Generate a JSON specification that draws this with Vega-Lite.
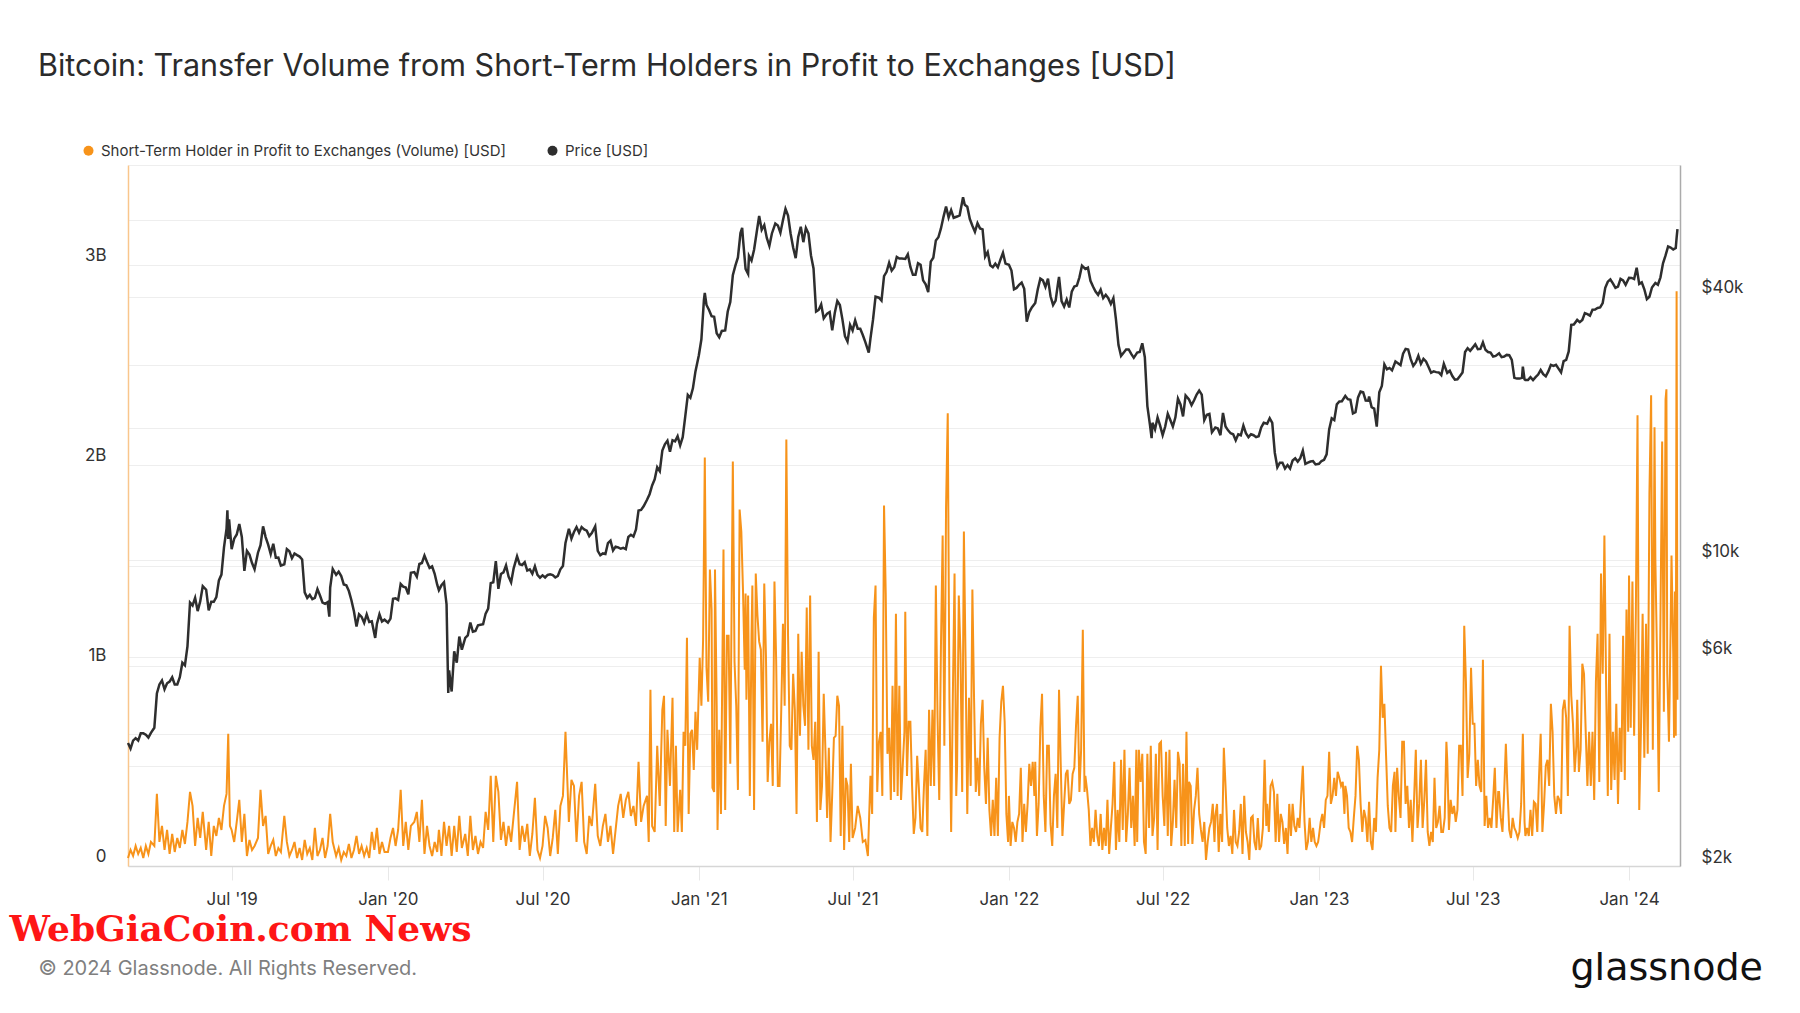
{
"$schema": "https://vega.github.io/schema/vega-lite/v6.json",
"width": 1552, "height": 701,
"autosize": {"type": "none"},
"padding": {"left": 128, "top": 165, "right": 120, "bottom": 147},
"background": "white",
"config": {"view": {"stroke": null}, "font": "Inter"},
"title": {"text": "Bitcoin: Transfer Volume from Short-Term Holders in Profit to Exchanges [USD]", "anchor": "start", "frame": "group", "dx": -90, "dy": 1, "offset": 62, "fontSize": 30.5, "fontWeight": 400, "color": "#2b2b2b", "font": "Inter"},
"datasets": {
"vol": [
{"t":"2019-03-01","v":0.04},{"t":"2019-03-04","v":0.08},{"t":"2019-03-07","v":0.05},{"t":"2019-03-10","v":0.10},{"t":"2019-03-13","v":0.06},{"t":"2019-03-16","v":0.09},{"t":"2019-03-19","v":0.04},{"t":"2019-03-22","v":0.10},{"t":"2019-03-25","v":0.06},{"t":"2019-03-28","v":0.12},
{"t":"2019-04-01","v":0.10},{"t":"2019-04-04","v":0.36},{"t":"2019-04-07","v":0.12},{"t":"2019-04-10","v":0.20},{"t":"2019-04-13","v":0.08},{"t":"2019-04-16","v":0.18},{"t":"2019-04-19","v":0.06},{"t":"2019-04-22","v":0.16},{"t":"2019-04-25","v":0.07},{"t":"2019-04-28","v":0.14},
{"t":"2019-05-01","v":0.09},{"t":"2019-05-04","v":0.18},{"t":"2019-05-07","v":0.11},{"t":"2019-05-10","v":0.22},{"t":"2019-05-13","v":0.37},{"t":"2019-05-16","v":0.30},{"t":"2019-05-19","v":0.10},{"t":"2019-05-22","v":0.24},{"t":"2019-05-25","v":0.14},{"t":"2019-05-28","v":0.27},
{"t":"2019-06-01","v":0.08},{"t":"2019-06-04","v":0.22},{"t":"2019-06-07","v":0.05},{"t":"2019-06-10","v":0.20},{"t":"2019-06-13","v":0.15},{"t":"2019-06-16","v":0.24},{"t":"2019-06-19","v":0.18},{"t":"2019-06-22","v":0.30},{"t":"2019-06-25","v":0.36},{"t":"2019-06-27","v":0.66},{"t":"2019-06-29","v":0.20},
{"t":"2019-07-01","v":0.18},{"t":"2019-07-04","v":0.12},{"t":"2019-07-07","v":0.22},{"t":"2019-07-10","v":0.33},{"t":"2019-07-13","v":0.12},{"t":"2019-07-16","v":0.26},{"t":"2019-07-19","v":0.05},{"t":"2019-07-22","v":0.13},{"t":"2019-07-25","v":0.08},{"t":"2019-07-28","v":0.10},
{"t":"2019-08-01","v":0.14},{"t":"2019-08-04","v":0.38},{"t":"2019-08-07","v":0.20},{"t":"2019-08-10","v":0.25},{"t":"2019-08-13","v":0.06},{"t":"2019-08-16","v":0.10},{"t":"2019-08-19","v":0.13},{"t":"2019-08-22","v":0.05},{"t":"2019-08-25","v":0.09},{"t":"2019-08-28","v":0.07},
{"t":"2019-09-01","v":0.25},{"t":"2019-09-04","v":0.12},{"t":"2019-09-07","v":0.05},{"t":"2019-09-10","v":0.08},{"t":"2019-09-13","v":0.12},{"t":"2019-09-16","v":0.04},{"t":"2019-09-19","v":0.09},{"t":"2019-09-22","v":0.03},{"t":"2019-09-25","v":0.13},{"t":"2019-09-28","v":0.06},
{"t":"2019-10-01","v":0.09},{"t":"2019-10-04","v":0.03},{"t":"2019-10-07","v":0.19},{"t":"2019-10-10","v":0.05},{"t":"2019-10-13","v":0.08},{"t":"2019-10-16","v":0.14},{"t":"2019-10-19","v":0.04},{"t":"2019-10-22","v":0.10},{"t":"2019-10-25","v":0.26},{"t":"2019-10-28","v":0.12},
{"t":"2019-11-01","v":0.05},{"t":"2019-11-04","v":0.09},{"t":"2019-11-07","v":0.03},{"t":"2019-11-10","v":0.07},{"t":"2019-11-13","v":0.05},{"t":"2019-11-16","v":0.11},{"t":"2019-11-19","v":0.04},{"t":"2019-11-22","v":0.08},{"t":"2019-11-25","v":0.15},{"t":"2019-11-28","v":0.06},
{"t":"2019-12-01","v":0.10},{"t":"2019-12-04","v":0.05},{"t":"2019-12-07","v":0.09},{"t":"2019-12-10","v":0.04},{"t":"2019-12-13","v":0.17},{"t":"2019-12-16","v":0.08},{"t":"2019-12-19","v":0.19},{"t":"2019-12-22","v":0.06},{"t":"2019-12-25","v":0.12},{"t":"2019-12-28","v":0.07},
{"t":"2020-01-01","v":0.07},{"t":"2020-01-04","v":0.14},{"t":"2020-01-07","v":0.19},{"t":"2020-01-10","v":0.10},{"t":"2020-01-13","v":0.18},{"t":"2020-01-16","v":0.38},{"t":"2020-01-19","v":0.10},{"t":"2020-01-22","v":0.22},{"t":"2020-01-25","v":0.08},{"t":"2020-01-28","v":0.20},
{"t":"2020-02-01","v":0.22},{"t":"2020-02-04","v":0.27},{"t":"2020-02-07","v":0.12},{"t":"2020-02-10","v":0.33},{"t":"2020-02-13","v":0.06},{"t":"2020-02-16","v":0.20},{"t":"2020-02-19","v":0.10},{"t":"2020-02-22","v":0.05},{"t":"2020-02-25","v":0.12},{"t":"2020-02-28","v":0.07},
{"t":"2020-03-01","v":0.18},{"t":"2020-03-04","v":0.05},{"t":"2020-03-07","v":0.22},{"t":"2020-03-10","v":0.10},{"t":"2020-03-13","v":0.20},{"t":"2020-03-16","v":0.05},{"t":"2020-03-19","v":0.20},{"t":"2020-03-22","v":0.07},{"t":"2020-03-25","v":0.25},{"t":"2020-03-28","v":0.09},
{"t":"2020-04-01","v":0.16},{"t":"2020-04-04","v":0.05},{"t":"2020-04-07","v":0.25},{"t":"2020-04-10","v":0.08},{"t":"2020-04-13","v":0.15},{"t":"2020-04-16","v":0.06},{"t":"2020-04-19","v":0.12},{"t":"2020-04-22","v":0.09},{"t":"2020-04-25","v":0.27},{"t":"2020-04-28","v":0.18},
{"t":"2020-05-01","v":0.45},{"t":"2020-05-04","v":0.12},{"t":"2020-05-07","v":0.45},{"t":"2020-05-10","v":0.37},{"t":"2020-05-13","v":0.13},{"t":"2020-05-16","v":0.22},{"t":"2020-05-19","v":0.10},{"t":"2020-05-22","v":0.20},{"t":"2020-05-25","v":0.12},{"t":"2020-05-28","v":0.25},
{"t":"2020-06-01","v":0.42},{"t":"2020-06-04","v":0.08},{"t":"2020-06-07","v":0.20},{"t":"2020-06-10","v":0.12},{"t":"2020-06-13","v":0.21},{"t":"2020-06-16","v":0.05},{"t":"2020-06-19","v":0.16},{"t":"2020-06-22","v":0.34},{"t":"2020-06-25","v":0.08},{"t":"2020-06-28","v":0.04},
{"t":"2020-07-01","v":0.10},{"t":"2020-07-04","v":0.25},{"t":"2020-07-07","v":0.19},{"t":"2020-07-10","v":0.05},{"t":"2020-07-13","v":0.14},{"t":"2020-07-16","v":0.28},{"t":"2020-07-19","v":0.06},{"t":"2020-07-22","v":0.30},{"t":"2020-07-25","v":0.35},{"t":"2020-07-28","v":0.67},
{"t":"2020-08-01","v":0.22},{"t":"2020-08-04","v":0.43},{"t":"2020-08-07","v":0.40},{"t":"2020-08-10","v":0.12},{"t":"2020-08-13","v":0.35},{"t":"2020-08-16","v":0.42},{"t":"2020-08-19","v":0.12},{"t":"2020-08-22","v":0.06},{"t":"2020-08-25","v":0.25},{"t":"2020-08-28","v":0.20},
{"t":"2020-09-01","v":0.41},{"t":"2020-09-04","v":0.15},{"t":"2020-09-07","v":0.10},{"t":"2020-09-10","v":0.20},{"t":"2020-09-13","v":0.26},{"t":"2020-09-16","v":0.12},{"t":"2020-09-19","v":0.20},{"t":"2020-09-22","v":0.06},{"t":"2020-09-25","v":0.18},{"t":"2020-09-28","v":0.30},
{"t":"2020-10-01","v":0.36},{"t":"2020-10-04","v":0.24},{"t":"2020-10-07","v":0.33},{"t":"2020-10-10","v":0.37},{"t":"2020-10-13","v":0.25},{"t":"2020-10-16","v":0.30},{"t":"2020-10-19","v":0.20},{"t":"2020-10-22","v":0.52},{"t":"2020-10-25","v":0.22},{"t":"2020-10-28","v":0.30},
{"t":"2020-11-01","v":0.35},{"t":"2020-11-03","v":0.12},{"t":"2020-11-05","v":0.88},{"t":"2020-11-07","v":0.20},{"t":"2020-11-10","v":0.17},{"t":"2020-11-13","v":0.60},{"t":"2020-11-16","v":0.30},{"t":"2020-11-19","v":0.78},{"t":"2020-11-21","v":0.85},{"t":"2020-11-23","v":0.20},{"t":"2020-11-25","v":0.68},{"t":"2020-11-28","v":0.40},
{"t":"2020-12-01","v":0.84},{"t":"2020-12-03","v":0.17},{"t":"2020-12-05","v":0.60},{"t":"2020-12-07","v":0.17},{"t":"2020-12-10","v":0.38},{"t":"2020-12-12","v":0.17},{"t":"2020-12-14","v":0.67},{"t":"2020-12-16","v":0.60},{"t":"2020-12-18","v":1.14},{"t":"2020-12-20","v":0.26},{"t":"2020-12-22","v":0.66},{"t":"2020-12-24","v":0.68},{"t":"2020-12-26","v":0.48},{"t":"2020-12-28","v":0.77},{"t":"2020-12-30","v":0.58},
{"t":"2021-01-01","v":0.89},{"t":"2021-01-02","v":1.04},{"t":"2021-01-04","v":0.80},{"t":"2021-01-06","v":1.13},{"t":"2021-01-08","v":2.04},{"t":"2021-01-10","v":0.99},{"t":"2021-01-12","v":0.82},{"t":"2021-01-14","v":1.48},{"t":"2021-01-16","v":1.28},{"t":"2021-01-17","v":0.39},{"t":"2021-01-19","v":0.37},{"t":"2021-01-20","v":1.48},{"t":"2021-01-22","v":0.80},{"t":"2021-01-23","v":0.18},{"t":"2021-01-25","v":0.68},{"t":"2021-01-27","v":0.26},{"t":"2021-01-30","v":1.58},
{"t":"2021-02-01","v":0.28},{"t":"2021-02-03","v":1.15},{"t":"2021-02-05","v":1.15},{"t":"2021-02-07","v":0.51},{"t":"2021-02-10","v":2.02},{"t":"2021-02-12","v":1.02},{"t":"2021-02-14","v":0.80},{"t":"2021-02-16","v":0.38},{"t":"2021-02-18","v":1.78},{"t":"2021-02-20","v":1.67},{"t":"2021-02-22","v":1.37},{"t":"2021-02-24","v":0.98},{"t":"2021-02-25","v":1.36},{"t":"2021-02-26","v":0.83},{"t":"2021-02-28","v":1.35},
{"t":"2021-03-02","v":0.35},{"t":"2021-03-04","v":1.15},{"t":"2021-03-05","v":1.40},{"t":"2021-03-07","v":0.28},{"t":"2021-03-09","v":1.46},{"t":"2021-03-11","v":1.25},{"t":"2021-03-13","v":1.12},{"t":"2021-03-15","v":1.08},{"t":"2021-03-17","v":0.62},{"t":"2021-03-19","v":1.41},{"t":"2021-03-21","v":1.05},{"t":"2021-03-23","v":0.42},{"t":"2021-03-25","v":0.62},{"t":"2021-03-27","v":0.71},{"t":"2021-03-29","v":0.40},{"t":"2021-03-31","v":1.42},
{"t":"2021-04-02","v":1.03},{"t":"2021-04-04","v":0.40},{"t":"2021-04-06","v":0.40},{"t":"2021-04-08","v":0.78},{"t":"2021-04-10","v":1.21},{"t":"2021-04-12","v":0.80},{"t":"2021-04-14","v":2.13},{"t":"2021-04-16","v":1.15},{"t":"2021-04-18","v":0.60},{"t":"2021-04-20","v":0.58},{"t":"2021-04-22","v":0.96},{"t":"2021-04-24","v":0.78},{"t":"2021-04-26","v":0.26},{"t":"2021-04-28","v":1.16},{"t":"2021-04-30","v":0.65},
{"t":"2021-05-02","v":1.07},{"t":"2021-05-04","v":0.80},{"t":"2021-05-06","v":0.70},{"t":"2021-05-08","v":1.29},{"t":"2021-05-10","v":0.58},{"t":"2021-05-12","v":1.35},{"t":"2021-05-14","v":0.60},{"t":"2021-05-16","v":0.53},{"t":"2021-05-18","v":0.72},{"t":"2021-05-20","v":0.22},{"t":"2021-05-22","v":1.07},{"t":"2021-05-24","v":0.28},{"t":"2021-05-26","v":0.40},{"t":"2021-05-28","v":0.86},{"t":"2021-05-30","v":0.58},
{"t":"2021-06-01","v":0.24},{"t":"2021-06-03","v":0.59},{"t":"2021-06-05","v":0.12},{"t":"2021-06-07","v":0.36},{"t":"2021-06-09","v":0.64},{"t":"2021-06-11","v":0.65},{"t":"2021-06-13","v":0.85},{"t":"2021-06-15","v":0.80},{"t":"2021-06-17","v":0.15},{"t":"2021-06-19","v":0.70},{"t":"2021-06-21","v":0.08},{"t":"2021-06-23","v":0.44},{"t":"2021-06-25","v":0.40},{"t":"2021-06-27","v":0.12},{"t":"2021-06-29","v":0.51},
{"t":"2021-07-01","v":0.14},{"t":"2021-07-04","v":0.19},{"t":"2021-07-07","v":0.30},{"t":"2021-07-10","v":0.24},{"t":"2021-07-13","v":0.12},{"t":"2021-07-16","v":0.13},{"t":"2021-07-19","v":0.05},{"t":"2021-07-22","v":0.45},{"t":"2021-07-24","v":0.26},{"t":"2021-07-26","v":1.24},{"t":"2021-07-28","v":1.40},{"t":"2021-07-30","v":0.37},
{"t":"2021-08-01","v":0.62},{"t":"2021-08-03","v":0.67},{"t":"2021-08-05","v":0.35},{"t":"2021-08-07","v":1.80},{"t":"2021-08-09","v":1.36},{"t":"2021-08-11","v":0.56},{"t":"2021-08-13","v":0.69},{"t":"2021-08-15","v":0.33},{"t":"2021-08-17","v":0.90},{"t":"2021-08-19","v":0.37},{"t":"2021-08-21","v":1.26},{"t":"2021-08-23","v":0.35},{"t":"2021-08-25","v":0.90},{"t":"2021-08-27","v":0.33},{"t":"2021-08-29","v":0.50},{"t":"2021-08-31","v":0.67},
{"t":"2021-09-01","v":1.27},{"t":"2021-09-03","v":0.45},{"t":"2021-09-05","v":0.72},{"t":"2021-09-07","v":0.72},{"t":"2021-09-09","v":0.40},{"t":"2021-09-11","v":0.16},{"t":"2021-09-13","v":0.24},{"t":"2021-09-15","v":0.55},{"t":"2021-09-17","v":0.39},{"t":"2021-09-19","v":0.19},{"t":"2021-09-21","v":0.17},{"t":"2021-09-23","v":0.40},{"t":"2021-09-25","v":0.58},{"t":"2021-09-27","v":0.15},{"t":"2021-09-29","v":0.78},
{"t":"2021-10-01","v":0.40},{"t":"2021-10-03","v":0.78},{"t":"2021-10-05","v":0.40},{"t":"2021-10-07","v":1.40},{"t":"2021-10-09","v":0.74},{"t":"2021-10-11","v":0.33},{"t":"2021-10-13","v":1.10},{"t":"2021-10-15","v":1.65},{"t":"2021-10-17","v":0.60},{"t":"2021-10-19","v":1.79},{"t":"2021-10-21","v":2.26},{"t":"2021-10-23","v":0.83},{"t":"2021-10-25","v":0.17},{"t":"2021-10-27","v":0.85},{"t":"2021-10-29","v":1.46},{"t":"2021-10-31","v":0.35},
{"t":"2021-11-01","v":0.50},{"t":"2021-11-03","v":1.35},{"t":"2021-11-05","v":1.06},{"t":"2021-11-07","v":0.37},{"t":"2021-11-09","v":1.67},{"t":"2021-11-11","v":1.02},{"t":"2021-11-13","v":0.26},{"t":"2021-11-15","v":0.84},{"t":"2021-11-17","v":0.40},{"t":"2021-11-19","v":1.38},{"t":"2021-11-21","v":0.83},{"t":"2021-11-23","v":0.37},{"t":"2021-11-25","v":0.54},{"t":"2021-11-27","v":0.35},{"t":"2021-11-29","v":0.71},
{"t":"2021-12-01","v":0.83},{"t":"2021-12-03","v":0.49},{"t":"2021-12-05","v":0.31},{"t":"2021-12-07","v":0.64},{"t":"2021-12-09","v":0.28},{"t":"2021-12-11","v":0.15},{"t":"2021-12-13","v":0.33},{"t":"2021-12-15","v":0.15},{"t":"2021-12-17","v":0.44},{"t":"2021-12-19","v":0.15},{"t":"2021-12-21","v":0.64},{"t":"2021-12-23","v":0.82},{"t":"2021-12-25","v":0.90},{"t":"2021-12-27","v":0.72},{"t":"2021-12-29","v":0.26},{"t":"2021-12-31","v":0.12},
{"t":"2022-01-01","v":0.35},{"t":"2022-01-03","v":0.10},{"t":"2022-01-05","v":0.22},{"t":"2022-01-07","v":0.19},{"t":"2022-01-09","v":0.12},{"t":"2022-01-11","v":0.22},{"t":"2022-01-13","v":0.26},{"t":"2022-01-15","v":0.49},{"t":"2022-01-17","v":0.12},{"t":"2022-01-19","v":0.31},{"t":"2022-01-21","v":0.17},{"t":"2022-01-23","v":0.31},{"t":"2022-01-25","v":0.51},{"t":"2022-01-27","v":0.40},{"t":"2022-01-29","v":0.52},{"t":"2022-01-31","v":0.35},
{"t":"2022-02-01","v":0.52},{"t":"2022-02-03","v":0.15},{"t":"2022-02-05","v":0.31},{"t":"2022-02-07","v":0.69},{"t":"2022-02-09","v":0.86},{"t":"2022-02-11","v":0.35},{"t":"2022-02-13","v":0.17},{"t":"2022-02-15","v":0.60},{"t":"2022-02-17","v":0.60},{"t":"2022-02-19","v":0.21},{"t":"2022-02-21","v":0.10},{"t":"2022-02-23","v":0.35},{"t":"2022-02-25","v":0.46},{"t":"2022-02-27","v":0.19},
{"t":"2022-03-01","v":0.88},{"t":"2022-03-03","v":0.51},{"t":"2022-03-05","v":0.15},{"t":"2022-03-07","v":0.31},{"t":"2022-03-09","v":0.46},{"t":"2022-03-11","v":0.48},{"t":"2022-03-13","v":0.31},{"t":"2022-03-15","v":0.33},{"t":"2022-03-17","v":0.46},{"t":"2022-03-19","v":0.49},{"t":"2022-03-21","v":0.70},{"t":"2022-03-23","v":0.85},{"t":"2022-03-25","v":0.37},{"t":"2022-03-27","v":0.58},{"t":"2022-03-29","v":1.18},{"t":"2022-03-31","v":0.37},
{"t":"2022-04-01","v":0.45},{"t":"2022-04-03","v":0.38},{"t":"2022-04-05","v":0.28},{"t":"2022-04-07","v":0.10},{"t":"2022-04-09","v":0.19},{"t":"2022-04-11","v":0.12},{"t":"2022-04-13","v":0.28},{"t":"2022-04-15","v":0.15},{"t":"2022-04-17","v":0.10},{"t":"2022-04-19","v":0.26},{"t":"2022-04-21","v":0.08},{"t":"2022-04-23","v":0.19},{"t":"2022-04-25","v":0.10},{"t":"2022-04-27","v":0.33},{"t":"2022-04-29","v":0.06},
{"t":"2022-05-01","v":0.19},{"t":"2022-05-03","v":0.31},{"t":"2022-05-05","v":0.52},{"t":"2022-05-07","v":0.08},{"t":"2022-05-09","v":0.28},{"t":"2022-05-11","v":0.12},{"t":"2022-05-13","v":0.53},{"t":"2022-05-15","v":0.18},{"t":"2022-05-17","v":0.58},{"t":"2022-05-19","v":0.12},{"t":"2022-05-21","v":0.26},{"t":"2022-05-23","v":0.49},{"t":"2022-05-25","v":0.19},{"t":"2022-05-27","v":0.35},{"t":"2022-05-29","v":0.10},{"t":"2022-05-31","v":0.58},
{"t":"2022-06-01","v":0.12},{"t":"2022-06-03","v":0.58},{"t":"2022-06-05","v":0.42},{"t":"2022-06-07","v":0.56},{"t":"2022-06-09","v":0.12},{"t":"2022-06-11","v":0.06},{"t":"2022-06-13","v":0.56},{"t":"2022-06-15","v":0.19},{"t":"2022-06-17","v":0.60},{"t":"2022-06-19","v":0.15},{"t":"2022-06-21","v":0.24},{"t":"2022-06-23","v":0.56},{"t":"2022-06-25","v":0.08},{"t":"2022-06-27","v":0.61},{"t":"2022-06-29","v":0.62},
{"t":"2022-07-01","v":0.35},{"t":"2022-07-03","v":0.20},{"t":"2022-07-05","v":0.57},{"t":"2022-07-07","v":0.15},{"t":"2022-07-09","v":0.58},{"t":"2022-07-11","v":0.10},{"t":"2022-07-13","v":0.22},{"t":"2022-07-15","v":0.43},{"t":"2022-07-17","v":0.19},{"t":"2022-07-19","v":0.57},{"t":"2022-07-21","v":0.51},{"t":"2022-07-23","v":0.10},{"t":"2022-07-25","v":0.51},{"t":"2022-07-27","v":0.10},{"t":"2022-07-29","v":0.67},{"t":"2022-07-31","v":0.11},
{"t":"2022-08-01","v":0.42},{"t":"2022-08-03","v":0.40},{"t":"2022-08-05","v":0.11},{"t":"2022-08-07","v":0.28},{"t":"2022-08-09","v":0.35},{"t":"2022-08-11","v":0.49},{"t":"2022-08-13","v":0.26},{"t":"2022-08-15","v":0.18},{"t":"2022-08-17","v":0.12},{"t":"2022-08-19","v":0.22},{"t":"2022-08-21","v":0.03},{"t":"2022-08-23","v":0.12},{"t":"2022-08-25","v":0.19},{"t":"2022-08-27","v":0.22},{"t":"2022-08-29","v":0.31},{"t":"2022-08-31","v":0.12},
{"t":"2022-09-01","v":0.25},{"t":"2022-09-03","v":0.31},{"t":"2022-09-05","v":0.07},{"t":"2022-09-07","v":0.26},{"t":"2022-09-09","v":0.12},{"t":"2022-09-11","v":0.59},{"t":"2022-09-13","v":0.40},{"t":"2022-09-15","v":0.19},{"t":"2022-09-17","v":0.10},{"t":"2022-09-19","v":0.15},{"t":"2022-09-21","v":0.06},{"t":"2022-09-23","v":0.28},{"t":"2022-09-25","v":0.12},{"t":"2022-09-27","v":0.10},{"t":"2022-09-29","v":0.17},
{"t":"2022-10-01","v":0.31},{"t":"2022-10-03","v":0.06},{"t":"2022-10-05","v":0.35},{"t":"2022-10-07","v":0.17},{"t":"2022-10-09","v":0.12},{"t":"2022-10-11","v":0.03},{"t":"2022-10-13","v":0.24},{"t":"2022-10-15","v":0.25},{"t":"2022-10-17","v":0.12},{"t":"2022-10-19","v":0.08},{"t":"2022-10-21","v":0.24},{"t":"2022-10-23","v":0.08},{"t":"2022-10-25","v":0.10},{"t":"2022-10-27","v":0.19},{"t":"2022-10-29","v":0.53},{"t":"2022-10-31","v":0.20},
{"t":"2022-11-01","v":0.31},{"t":"2022-11-03","v":0.17},{"t":"2022-11-05","v":0.40},{"t":"2022-11-07","v":0.42},{"t":"2022-11-09","v":0.37},{"t":"2022-11-11","v":0.12},{"t":"2022-11-13","v":0.36},{"t":"2022-11-15","v":0.12},{"t":"2022-11-17","v":0.26},{"t":"2022-11-19","v":0.22},{"t":"2022-11-21","v":0.11},{"t":"2022-11-23","v":0.19},{"t":"2022-11-25","v":0.06},{"t":"2022-11-27","v":0.31},{"t":"2022-11-29","v":0.15},
{"t":"2022-12-01","v":0.31},{"t":"2022-12-03","v":0.20},{"t":"2022-12-05","v":0.17},{"t":"2022-12-07","v":0.24},{"t":"2022-12-09","v":0.19},{"t":"2022-12-11","v":0.35},{"t":"2022-12-13","v":0.50},{"t":"2022-12-15","v":0.22},{"t":"2022-12-17","v":0.08},{"t":"2022-12-19","v":0.12},{"t":"2022-12-21","v":0.24},{"t":"2022-12-23","v":0.12},{"t":"2022-12-25","v":0.19},{"t":"2022-12-27","v":0.12},{"t":"2022-12-29","v":0.10},{"t":"2022-12-31","v":0.12},
{"t":"2023-01-01","v":0.15},{"t":"2023-01-03","v":0.22},{"t":"2023-01-05","v":0.26},{"t":"2023-01-07","v":0.19},{"t":"2023-01-09","v":0.33},{"t":"2023-01-11","v":0.35},{"t":"2023-01-13","v":0.57},{"t":"2023-01-15","v":0.31},{"t":"2023-01-17","v":0.35},{"t":"2023-01-19","v":0.44},{"t":"2023-01-21","v":0.35},{"t":"2023-01-23","v":0.47},{"t":"2023-01-25","v":0.44},{"t":"2023-01-27","v":0.40},{"t":"2023-01-29","v":0.42},{"t":"2023-01-31","v":0.26},
{"t":"2023-02-01","v":0.40},{"t":"2023-02-03","v":0.35},{"t":"2023-02-05","v":0.19},{"t":"2023-02-07","v":0.17},{"t":"2023-02-09","v":0.12},{"t":"2023-02-11","v":0.24},{"t":"2023-02-13","v":0.35},{"t":"2023-02-15","v":0.60},{"t":"2023-02-17","v":0.53},{"t":"2023-02-19","v":0.31},{"t":"2023-02-21","v":0.17},{"t":"2023-02-23","v":0.28},{"t":"2023-02-25","v":0.24},{"t":"2023-02-27","v":0.12},
{"t":"2023-03-01","v":0.32},{"t":"2023-03-03","v":0.12},{"t":"2023-03-05","v":0.08},{"t":"2023-03-07","v":0.24},{"t":"2023-03-09","v":0.17},{"t":"2023-03-11","v":0.44},{"t":"2023-03-13","v":0.58},{"t":"2023-03-15","v":1.00},{"t":"2023-03-17","v":0.74},{"t":"2023-03-19","v":0.81},{"t":"2023-03-21","v":0.55},{"t":"2023-03-23","v":0.30},{"t":"2023-03-25","v":0.19},{"t":"2023-03-27","v":0.17},{"t":"2023-03-29","v":0.40},{"t":"2023-03-31","v":0.47},
{"t":"2023-04-01","v":0.17},{"t":"2023-04-03","v":0.49},{"t":"2023-04-05","v":0.35},{"t":"2023-04-07","v":0.24},{"t":"2023-04-09","v":0.62},{"t":"2023-04-11","v":0.62},{"t":"2023-04-13","v":0.31},{"t":"2023-04-15","v":0.40},{"t":"2023-04-17","v":0.19},{"t":"2023-04-19","v":0.33},{"t":"2023-04-21","v":0.12},{"t":"2023-04-23","v":0.34},{"t":"2023-04-25","v":0.58},{"t":"2023-04-27","v":0.19},{"t":"2023-04-29","v":0.31},
{"t":"2023-05-01","v":0.53},{"t":"2023-05-03","v":0.19},{"t":"2023-05-05","v":0.33},{"t":"2023-05-07","v":0.53},{"t":"2023-05-09","v":0.17},{"t":"2023-05-11","v":0.10},{"t":"2023-05-13","v":0.17},{"t":"2023-05-15","v":0.12},{"t":"2023-05-17","v":0.44},{"t":"2023-05-19","v":0.19},{"t":"2023-05-21","v":0.22},{"t":"2023-05-23","v":0.30},{"t":"2023-05-25","v":0.17},{"t":"2023-05-27","v":0.17},{"t":"2023-05-29","v":0.24},{"t":"2023-05-31","v":0.62},
{"t":"2023-06-01","v":0.53},{"t":"2023-06-03","v":0.18},{"t":"2023-06-05","v":0.33},{"t":"2023-06-07","v":0.26},{"t":"2023-06-09","v":0.30},{"t":"2023-06-11","v":0.22},{"t":"2023-06-13","v":0.28},{"t":"2023-06-15","v":0.60},{"t":"2023-06-17","v":0.60},{"t":"2023-06-19","v":0.35},{"t":"2023-06-21","v":1.20},{"t":"2023-06-23","v":0.92},{"t":"2023-06-25","v":0.44},{"t":"2023-06-27","v":0.56},{"t":"2023-06-29","v":0.99},
{"t":"2023-07-01","v":0.71},{"t":"2023-07-03","v":0.71},{"t":"2023-07-05","v":0.40},{"t":"2023-07-07","v":0.53},{"t":"2023-07-09","v":0.40},{"t":"2023-07-11","v":0.37},{"t":"2023-07-13","v":1.03},{"t":"2023-07-15","v":0.20},{"t":"2023-07-17","v":0.35},{"t":"2023-07-19","v":0.19},{"t":"2023-07-21","v":0.24},{"t":"2023-07-23","v":0.19},{"t":"2023-07-25","v":0.33},{"t":"2023-07-27","v":0.49},{"t":"2023-07-29","v":0.19},{"t":"2023-07-31","v":0.37},
{"t":"2023-08-01","v":0.37},{"t":"2023-08-03","v":0.24},{"t":"2023-08-05","v":0.17},{"t":"2023-08-07","v":0.37},{"t":"2023-08-09","v":0.61},{"t":"2023-08-11","v":0.37},{"t":"2023-08-13","v":0.18},{"t":"2023-08-15","v":0.14},{"t":"2023-08-17","v":0.24},{"t":"2023-08-19","v":0.19},{"t":"2023-08-21","v":0.17},{"t":"2023-08-23","v":0.14},{"t":"2023-08-25","v":0.17},{"t":"2023-08-27","v":0.31},{"t":"2023-08-29","v":0.66},{"t":"2023-08-31","v":0.22},
{"t":"2023-09-01","v":0.15},{"t":"2023-09-03","v":0.19},{"t":"2023-09-05","v":0.15},{"t":"2023-09-07","v":0.28},{"t":"2023-09-09","v":0.15},{"t":"2023-09-11","v":0.32},{"t":"2023-09-13","v":0.31},{"t":"2023-09-15","v":0.17},{"t":"2023-09-17","v":0.44},{"t":"2023-09-19","v":0.66},{"t":"2023-09-21","v":0.17},{"t":"2023-09-23","v":0.31},{"t":"2023-09-25","v":0.50},{"t":"2023-09-27","v":0.53},{"t":"2023-09-29","v":0.40},
{"t":"2023-10-01","v":0.81},{"t":"2023-10-03","v":0.67},{"t":"2023-10-05","v":0.35},{"t":"2023-10-07","v":0.26},{"t":"2023-10-09","v":0.35},{"t":"2023-10-11","v":0.33},{"t":"2023-10-13","v":0.26},{"t":"2023-10-15","v":0.78},{"t":"2023-10-17","v":0.83},{"t":"2023-10-19","v":0.74},{"t":"2023-10-21","v":0.35},{"t":"2023-10-23","v":1.20},{"t":"2023-10-25","v":0.85},{"t":"2023-10-27","v":0.71},{"t":"2023-10-29","v":0.47},{"t":"2023-10-31","v":0.60},
{"t":"2023-11-01","v":0.83},{"t":"2023-11-03","v":0.47},{"t":"2023-11-05","v":0.58},{"t":"2023-11-07","v":1.01},{"t":"2023-11-09","v":0.96},{"t":"2023-11-11","v":0.67},{"t":"2023-11-13","v":0.40},{"t":"2023-11-15","v":0.67},{"t":"2023-11-17","v":0.40},{"t":"2023-11-19","v":0.67},{"t":"2023-11-21","v":0.33},{"t":"2023-11-23","v":0.92},{"t":"2023-11-25","v":1.16},{"t":"2023-11-27","v":0.42},{"t":"2023-11-29","v":1.46},
{"t":"2023-12-01","v":0.96},{"t":"2023-12-03","v":1.65},{"t":"2023-12-05","v":0.91},{"t":"2023-12-07","v":0.35},{"t":"2023-12-09","v":1.16},{"t":"2023-12-11","v":0.38},{"t":"2023-12-13","v":0.67},{"t":"2023-12-15","v":0.43},{"t":"2023-12-17","v":0.81},{"t":"2023-12-19","v":0.31},{"t":"2023-12-21","v":0.69},{"t":"2023-12-23","v":0.47},{"t":"2023-12-25","v":1.15},{"t":"2023-12-27","v":0.43},{"t":"2023-12-29","v":1.28},{"t":"2023-12-31","v":0.67},
{"t":"2024-01-01","v":1.45},{"t":"2024-01-03","v":0.69},{"t":"2024-01-05","v":1.42},{"t":"2024-01-07","v":0.65},{"t":"2024-01-09","v":1.26},{"t":"2024-01-11","v":2.25},{"t":"2024-01-13","v":0.28},{"t":"2024-01-15","v":0.67},{"t":"2024-01-17","v":1.26},{"t":"2024-01-19","v":0.54},{"t":"2024-01-21","v":1.21},{"t":"2024-01-23","v":0.56},{"t":"2024-01-25","v":1.86},{"t":"2024-01-27","v":2.35},{"t":"2024-01-29","v":0.58},{"t":"2024-01-31","v":2.19},
{"t":"2024-02-01","v":1.53},{"t":"2024-02-03","v":1.03},{"t":"2024-02-05","v":0.37},{"t":"2024-02-07","v":1.24},{"t":"2024-02-09","v":2.12},{"t":"2024-02-11","v":0.77},{"t":"2024-02-13","v":2.33},{"t":"2024-02-14","v":2.38},{"t":"2024-02-15","v":0.96},{"t":"2024-02-17","v":0.62},{"t":"2024-02-19","v":1.20},{"t":"2024-02-20","v":1.55},{"t":"2024-02-22","v":1.07},{"t":"2024-02-23","v":0.64},{"t":"2024-02-24","v":1.37},{"t":"2024-02-25","v":0.65},{"t":"2024-02-26","v":2.87},{"t":"2024-02-27","v":0.83}
],
"price": [
{"t":"2019-03-01","p":3820},{"t":"2019-03-04","p":3710},{"t":"2019-03-07","p":3870},{"t":"2019-03-10","p":3920},{"t":"2019-03-13","p":3870},{"t":"2019-03-16","p":4020},{"t":"2019-03-19","p":4020},{"t":"2019-03-22","p":3990},{"t":"2019-03-25","p":3930},{"t":"2019-03-28","p":4030},
{"t":"2019-04-01","p":4140},{"t":"2019-04-04","p":4960},{"t":"2019-04-07","p":5200},{"t":"2019-04-10","p":5310},{"t":"2019-04-13","p":5070},{"t":"2019-04-16","p":5230},{"t":"2019-04-19","p":5280},{"t":"2019-04-22","p":5400},{"t":"2019-04-25","p":5200},{"t":"2019-04-28","p":5200},
{"t":"2019-05-01","p":5400},{"t":"2019-05-04","p":5830},{"t":"2019-05-07","p":5750},{"t":"2019-05-10","p":6350},{"t":"2019-05-13","p":8000},{"t":"2019-05-16","p":7880},{"t":"2019-05-19","p":8200},{"t":"2019-05-22","p":7650},{"t":"2019-05-25","p":8050},{"t":"2019-05-28","p":8720},
{"t":"2019-06-01","p":8560},{"t":"2019-06-04","p":7680},{"t":"2019-06-07","p":8030},{"t":"2019-06-10","p":8030},{"t":"2019-06-13","p":8230},{"t":"2019-06-16","p":8990},{"t":"2019-06-19","p":9270},{"t":"2019-06-22","p":10700},{"t":"2019-06-25","p":11800},{"t":"2019-06-26","p":13000},{"t":"2019-06-27","p":11180},{"t":"2019-06-28","p":12400},
{"t":"2019-07-01","p":10600},{"t":"2019-07-04","p":11200},{"t":"2019-07-07","p":11450},{"t":"2019-07-10","p":12100},{"t":"2019-07-13","p":11300},{"t":"2019-07-16","p":9450},{"t":"2019-07-19","p":10500},{"t":"2019-07-22","p":10300},{"t":"2019-07-25","p":9850},{"t":"2019-07-28","p":9530},
{"t":"2019-08-01","p":10400},{"t":"2019-08-04","p":10820},{"t":"2019-08-07","p":11950},{"t":"2019-08-10","p":11290},{"t":"2019-08-13","p":10850},{"t":"2019-08-16","p":10330},{"t":"2019-08-19","p":10900},{"t":"2019-08-22","p":10130},{"t":"2019-08-25","p":10140},{"t":"2019-08-28","p":9720},
{"t":"2019-09-01","p":9780},{"t":"2019-09-04","p":10600},{"t":"2019-09-07","p":10480},{"t":"2019-09-10","p":10100},{"t":"2019-09-13","p":10360},{"t":"2019-09-16","p":10270},{"t":"2019-09-19","p":10190},{"t":"2019-09-22","p":10040},{"t":"2019-09-25","p":8440},{"t":"2019-09-28","p":8200},
{"t":"2019-10-01","p":8330},{"t":"2019-10-04","p":8150},{"t":"2019-10-07","p":8200},{"t":"2019-10-10","p":8590},{"t":"2019-10-13","p":8300},{"t":"2019-10-16","p":8000},{"t":"2019-10-19","p":7950},{"t":"2019-10-22","p":8020},{"t":"2019-10-24","p":7430},{"t":"2019-10-25","p":8660},{"t":"2019-10-28","p":9550},
{"t":"2019-11-01","p":9260},{"t":"2019-11-04","p":9410},{"t":"2019-11-07","p":9200},{"t":"2019-11-10","p":8800},{"t":"2019-11-13","p":8760},{"t":"2019-11-16","p":8500},{"t":"2019-11-19","p":8100},{"t":"2019-11-22","p":7630},{"t":"2019-11-25","p":7050},{"t":"2019-11-28","p":7520},
{"t":"2019-12-01","p":7420},{"t":"2019-12-04","p":7190},{"t":"2019-12-07","p":7520},{"t":"2019-12-10","p":7220},{"t":"2019-12-13","p":7250},{"t":"2019-12-17","p":6640},{"t":"2019-12-19","p":7150},{"t":"2019-12-22","p":7520},{"t":"2019-12-25","p":7240},{"t":"2019-12-28","p":7310},
{"t":"2020-01-01","p":7200},{"t":"2020-01-04","p":7350},{"t":"2020-01-07","p":8160},{"t":"2020-01-10","p":8180},{"t":"2020-01-13","p":8110},{"t":"2020-01-16","p":8820},{"t":"2020-01-19","p":8700},{"t":"2020-01-22","p":8660},{"t":"2020-01-25","p":8350},{"t":"2020-01-28","p":9360},
{"t":"2020-02-01","p":9390},{"t":"2020-02-04","p":9170},{"t":"2020-02-07","p":9800},{"t":"2020-02-10","p":9850},{"t":"2020-02-13","p":10240},{"t":"2020-02-16","p":9900},{"t":"2020-02-19","p":9600},{"t":"2020-02-22","p":9680},{"t":"2020-02-25","p":9310},{"t":"2020-02-28","p":8790},
{"t":"2020-03-01","p":8540},{"t":"2020-03-04","p":8760},{"t":"2020-03-07","p":8900},{"t":"2020-03-10","p":7930},{"t":"2020-03-12","p":4970},{"t":"2020-03-13","p":5600},{"t":"2020-03-16","p":5010},{"t":"2020-03-19","p":6190},{"t":"2020-03-22","p":5830},{"t":"2020-03-25","p":6690},{"t":"2020-03-28","p":6240},
{"t":"2020-04-01","p":6640},{"t":"2020-04-04","p":6730},{"t":"2020-04-07","p":7200},{"t":"2020-04-10","p":6860},{"t":"2020-04-13","p":6890},{"t":"2020-04-16","p":7100},{"t":"2020-04-19","p":7120},{"t":"2020-04-22","p":7140},{"t":"2020-04-25","p":7550},{"t":"2020-04-28","p":7750},
{"t":"2020-05-01","p":8860},{"t":"2020-05-04","p":8900},{"t":"2020-05-07","p":9950},{"t":"2020-05-10","p":8600},{"t":"2020-05-13","p":9300},{"t":"2020-05-16","p":9380},{"t":"2020-05-19","p":9730},{"t":"2020-05-22","p":9170},{"t":"2020-05-25","p":8900},{"t":"2020-05-28","p":9580},
{"t":"2020-06-01","p":10200},{"t":"2020-06-04","p":9790},{"t":"2020-06-07","p":9750},{"t":"2020-06-10","p":9890},{"t":"2020-06-13","p":9470},{"t":"2020-06-16","p":9530},{"t":"2020-06-19","p":9310},{"t":"2020-06-22","p":9680},{"t":"2020-06-25","p":9250},{"t":"2020-06-28","p":9120},
{"t":"2020-07-01","p":9230},{"t":"2020-07-04","p":9130},{"t":"2020-07-07","p":9250},{"t":"2020-07-10","p":9280},{"t":"2020-07-13","p":9240},{"t":"2020-07-16","p":9130},{"t":"2020-07-19","p":9200},{"t":"2020-07-22","p":9530},{"t":"2020-07-25","p":9700},{"t":"2020-07-28","p":10950},
{"t":"2020-08-01","p":11800},{"t":"2020-08-04","p":11200},{"t":"2020-08-07","p":11600},{"t":"2020-08-10","p":11900},{"t":"2020-08-13","p":11550},{"t":"2020-08-16","p":11900},{"t":"2020-08-19","p":11760},{"t":"2020-08-22","p":11680},{"t":"2020-08-25","p":11350},{"t":"2020-08-28","p":11530},
{"t":"2020-09-01","p":11950},{"t":"2020-09-04","p":10500},{"t":"2020-09-07","p":10260},{"t":"2020-09-10","p":10360},{"t":"2020-09-13","p":10330},{"t":"2020-09-16","p":10940},{"t":"2020-09-19","p":11080},{"t":"2020-09-22","p":10520},{"t":"2020-09-25","p":10740},{"t":"2020-09-28","p":10700},
{"t":"2020-10-01","p":10620},{"t":"2020-10-04","p":10670},{"t":"2020-10-07","p":10600},{"t":"2020-10-10","p":11300},{"t":"2020-10-13","p":11430},{"t":"2020-10-16","p":11320},{"t":"2020-10-19","p":11750},{"t":"2020-10-22","p":12990},{"t":"2020-10-25","p":13030},{"t":"2020-10-28","p":13280},
{"t":"2020-11-01","p":13740},{"t":"2020-11-04","p":14150},{"t":"2020-11-07","p":14820},{"t":"2020-11-10","p":15300},{"t":"2020-11-13","p":16300},{"t":"2020-11-16","p":15970},{"t":"2020-11-19","p":17800},{"t":"2020-11-22","p":18400},{"t":"2020-11-25","p":18750},{"t":"2020-11-28","p":17700},
{"t":"2020-12-01","p":18800},{"t":"2020-12-04","p":18680},{"t":"2020-12-07","p":19200},{"t":"2020-12-10","p":18300},{"t":"2020-12-13","p":19100},{"t":"2020-12-16","p":21300},{"t":"2020-12-19","p":23850},{"t":"2020-12-22","p":23500},{"t":"2020-12-25","p":24700},{"t":"2020-12-28","p":27000},
{"t":"2021-01-01","p":29400},{"t":"2021-01-04","p":31970},{"t":"2021-01-07","p":39400},{"t":"2021-01-08","p":40800},{"t":"2021-01-10","p":38300},{"t":"2021-01-13","p":37300},{"t":"2021-01-16","p":36100},{"t":"2021-01-19","p":36000},{"t":"2021-01-22","p":33000},{"t":"2021-01-25","p":32300},{"t":"2021-01-28","p":33400},
{"t":"2021-02-01","p":33500},{"t":"2021-02-04","p":37000},{"t":"2021-02-07","p":38900},{"t":"2021-02-10","p":44800},{"t":"2021-02-13","p":47100},{"t":"2021-02-16","p":49200},{"t":"2021-02-19","p":55900},{"t":"2021-02-21","p":57500},{"t":"2021-02-22","p":54100},{"t":"2021-02-25","p":46300},{"t":"2021-02-28","p":45100},
{"t":"2021-03-01","p":49600},{"t":"2021-03-04","p":48400},{"t":"2021-03-07","p":51200},{"t":"2021-03-10","p":56000},{"t":"2021-03-13","p":61200},{"t":"2021-03-16","p":56900},{"t":"2021-03-19","p":58300},{"t":"2021-03-22","p":54500},{"t":"2021-03-25","p":52300},{"t":"2021-03-28","p":55800},
{"t":"2021-04-01","p":58800},{"t":"2021-04-04","p":58200},{"t":"2021-04-07","p":56000},{"t":"2021-04-10","p":59800},{"t":"2021-04-13","p":63500},{"t":"2021-04-16","p":61300},{"t":"2021-04-19","p":55800},{"t":"2021-04-22","p":51800},{"t":"2021-04-25","p":49000},{"t":"2021-04-28","p":54800},
{"t":"2021-05-01","p":57800},{"t":"2021-05-04","p":53300},{"t":"2021-05-07","p":57400},{"t":"2021-05-10","p":55800},{"t":"2021-05-13","p":49700},{"t":"2021-05-16","p":46400},{"t":"2021-05-19","p":37000},{"t":"2021-05-22","p":37300},{"t":"2021-05-25","p":38400},{"t":"2021-05-28","p":35700},
{"t":"2021-06-01","p":36600},{"t":"2021-06-04","p":36900},{"t":"2021-06-07","p":33500},{"t":"2021-06-10","p":36700},{"t":"2021-06-13","p":39100},{"t":"2021-06-16","p":38300},{"t":"2021-06-19","p":35500},{"t":"2021-06-22","p":32500},{"t":"2021-06-25","p":31600},{"t":"2021-06-28","p":34500},
{"t":"2021-07-01","p":33500},{"t":"2021-07-04","p":35300},{"t":"2021-07-07","p":33800},{"t":"2021-07-10","p":33800},{"t":"2021-07-13","p":32700},{"t":"2021-07-16","p":31500},{"t":"2021-07-20","p":29800},{"t":"2021-07-22","p":32100},{"t":"2021-07-25","p":35400},{"t":"2021-07-28","p":40000},
{"t":"2021-08-01","p":39800},{"t":"2021-08-04","p":39200},{"t":"2021-08-07","p":44600},{"t":"2021-08-10","p":45600},{"t":"2021-08-13","p":47800},{"t":"2021-08-16","p":45900},{"t":"2021-08-19","p":46700},{"t":"2021-08-22","p":49300},{"t":"2021-08-25","p":48900},{"t":"2021-08-28","p":48900},
{"t":"2021-09-01","p":48800},{"t":"2021-09-04","p":50000},{"t":"2021-09-07","p":46800},{"t":"2021-09-10","p":44900},{"t":"2021-09-13","p":44900},{"t":"2021-09-16","p":47700},{"t":"2021-09-19","p":47300},{"t":"2021-09-22","p":43600},{"t":"2021-09-25","p":42700},{"t":"2021-09-28","p":41000},
{"t":"2021-10-01","p":48100},{"t":"2021-10-04","p":49100},{"t":"2021-10-07","p":53800},{"t":"2021-10-10","p":54700},{"t":"2021-10-13","p":57300},{"t":"2021-10-16","p":60900},{"t":"2021-10-19","p":64300},{"t":"2021-10-22","p":60700},{"t":"2021-10-25","p":63100},{"t":"2021-10-28","p":60600},
{"t":"2021-11-01","p":61000},{"t":"2021-11-04","p":61400},{"t":"2021-11-08","p":67500},{"t":"2021-11-10","p":64900},{"t":"2021-11-13","p":64200},{"t":"2021-11-16","p":60200},{"t":"2021-11-19","p":58100},{"t":"2021-11-22","p":56300},{"t":"2021-11-25","p":58900},{"t":"2021-11-28","p":57300},
{"t":"2021-12-01","p":57000},{"t":"2021-12-04","p":49400},{"t":"2021-12-07","p":50600},{"t":"2021-12-10","p":47200},{"t":"2021-12-13","p":46700},{"t":"2021-12-16","p":47600},{"t":"2021-12-19","p":46700},{"t":"2021-12-22","p":48600},{"t":"2021-12-25","p":50400},{"t":"2021-12-28","p":47600},
{"t":"2022-01-01","p":47300},{"t":"2022-01-04","p":45900},{"t":"2022-01-07","p":41600},{"t":"2022-01-10","p":41900},{"t":"2022-01-13","p":42600},{"t":"2022-01-16","p":43100},{"t":"2022-01-19","p":41700},{"t":"2022-01-22","p":35100},{"t":"2022-01-25","p":36900},{"t":"2022-01-28","p":37800},
{"t":"2022-02-01","p":38700},{"t":"2022-02-04","p":41600},{"t":"2022-02-07","p":44000},{"t":"2022-02-10","p":43600},{"t":"2022-02-13","p":42100},{"t":"2022-02-16","p":44000},{"t":"2022-02-19","p":40100},{"t":"2022-02-22","p":38300},{"t":"2022-02-25","p":39200},{"t":"2022-02-28","p":43200},
{"t":"2022-03-01","p":44400},{"t":"2022-03-04","p":39100},{"t":"2022-03-07","p":38000},{"t":"2022-03-10","p":39400},{"t":"2022-03-13","p":37800},{"t":"2022-03-16","p":41100},{"t":"2022-03-19","p":42200},{"t":"2022-03-22","p":42400},{"t":"2022-03-25","p":44300},{"t":"2022-03-28","p":47100},
{"t":"2022-04-01","p":46300},{"t":"2022-04-04","p":46600},{"t":"2022-04-07","p":43500},{"t":"2022-04-10","p":42200},{"t":"2022-04-13","p":41100},{"t":"2022-04-16","p":40400},{"t":"2022-04-19","p":41500},{"t":"2022-04-22","p":39700},{"t":"2022-04-25","p":40400},{"t":"2022-04-28","p":39700},
{"t":"2022-05-01","p":38500},{"t":"2022-05-04","p":39700},{"t":"2022-05-07","p":35500},{"t":"2022-05-10","p":31000},{"t":"2022-05-13","p":29300},{"t":"2022-05-16","p":29800},{"t":"2022-05-19","p":30300},{"t":"2022-05-22","p":30300},{"t":"2022-05-25","p":29600},{"t":"2022-05-28","p":29000},
{"t":"2022-06-01","p":29800},{"t":"2022-06-04","p":29900},{"t":"2022-06-07","p":31300},{"t":"2022-06-10","p":29100},{"t":"2022-06-13","p":22500},{"t":"2022-06-16","p":20400},{"t":"2022-06-18","p":19000},{"t":"2022-06-19","p":20600},{"t":"2022-06-22","p":19900},{"t":"2022-06-25","p":21200},{"t":"2022-06-28","p":20300},
{"t":"2022-07-01","p":19300},{"t":"2022-07-04","p":20200},{"t":"2022-07-07","p":21600},{"t":"2022-07-10","p":20900},{"t":"2022-07-13","p":20200},{"t":"2022-07-16","p":21200},{"t":"2022-07-19","p":23400},{"t":"2022-07-22","p":22700},{"t":"2022-07-25","p":21300},{"t":"2022-07-28","p":23800},
{"t":"2022-08-01","p":23300},{"t":"2022-08-04","p":22600},{"t":"2022-08-07","p":23200},{"t":"2022-08-10","p":23900},{"t":"2022-08-13","p":24400},{"t":"2022-08-16","p":23900},{"t":"2022-08-19","p":20900},{"t":"2022-08-22","p":21500},{"t":"2022-08-25","p":21600},{"t":"2022-08-28","p":19600},
{"t":"2022-09-01","p":20100},{"t":"2022-09-04","p":20000},{"t":"2022-09-07","p":19300},{"t":"2022-09-10","p":21700},{"t":"2022-09-13","p":20200},{"t":"2022-09-16","p":19800},{"t":"2022-09-19","p":19500},{"t":"2022-09-22","p":19400},{"t":"2022-09-25","p":18800},{"t":"2022-09-28","p":19400},
{"t":"2022-10-01","p":19300},{"t":"2022-10-04","p":20300},{"t":"2022-10-07","p":19500},{"t":"2022-10-10","p":19100},{"t":"2022-10-13","p":19400},{"t":"2022-10-16","p":19300},{"t":"2022-10-19","p":19100},{"t":"2022-10-22","p":19200},{"t":"2022-10-25","p":20100},{"t":"2022-10-28","p":20600},
{"t":"2022-11-01","p":20500},{"t":"2022-11-04","p":21100},{"t":"2022-11-07","p":20600},{"t":"2022-11-10","p":17600},{"t":"2022-11-13","p":16300},{"t":"2022-11-16","p":16700},{"t":"2022-11-19","p":16700},{"t":"2022-11-22","p":16200},{"t":"2022-11-25","p":16500},{"t":"2022-11-28","p":16200},
{"t":"2022-12-01","p":16900},{"t":"2022-12-04","p":17100},{"t":"2022-12-07","p":16800},{"t":"2022-12-10","p":17100},{"t":"2022-12-13","p":17800},{"t":"2022-12-16","p":16600},{"t":"2022-12-19","p":16700},{"t":"2022-12-22","p":16800},{"t":"2022-12-25","p":16840},{"t":"2022-12-28","p":16550},
{"t":"2023-01-01","p":16600},{"t":"2023-01-04","p":16850},{"t":"2023-01-07","p":16950},{"t":"2023-01-10","p":17450},{"t":"2023-01-13","p":19900},{"t":"2023-01-16","p":21100},{"t":"2023-01-19","p":20900},{"t":"2023-01-22","p":22700},{"t":"2023-01-25","p":23050},{"t":"2023-01-28","p":23080},
{"t":"2023-02-01","p":23730},{"t":"2023-02-04","p":23330},{"t":"2023-02-07","p":23260},{"t":"2023-02-10","p":21650},{"t":"2023-02-13","p":21800},{"t":"2023-02-16","p":23550},{"t":"2023-02-19","p":24300},{"t":"2023-02-22","p":24200},{"t":"2023-02-25","p":23170},{"t":"2023-02-28","p":23150},
{"t":"2023-03-01","p":23650},{"t":"2023-03-04","p":22360},{"t":"2023-03-07","p":22200},{"t":"2023-03-10","p":20200},{"t":"2023-03-13","p":24200},{"t":"2023-03-16","p":25000},{"t":"2023-03-19","p":28000},{"t":"2023-03-22","p":27300},{"t":"2023-03-25","p":27500},{"t":"2023-03-28","p":27150},
{"t":"2023-04-01","p":28450},{"t":"2023-04-04","p":28170},{"t":"2023-04-07","p":27900},{"t":"2023-04-10","p":29650},{"t":"2023-04-13","p":30400},{"t":"2023-04-16","p":30300},{"t":"2023-04-19","p":28800},{"t":"2023-04-22","p":27800},{"t":"2023-04-25","p":28300},{"t":"2023-04-28","p":29300},
{"t":"2023-05-01","p":28100},{"t":"2023-05-04","p":28850},{"t":"2023-05-07","p":28450},{"t":"2023-05-10","p":27650},{"t":"2023-05-13","p":26800},{"t":"2023-05-16","p":27000},{"t":"2023-05-19","p":26900},{"t":"2023-05-22","p":26850},{"t":"2023-05-25","p":26480},{"t":"2023-05-28","p":28100},
{"t":"2023-06-01","p":26800},{"t":"2023-06-04","p":27100},{"t":"2023-06-07","p":26350},{"t":"2023-06-10","p":25850},{"t":"2023-06-13","p":25900},{"t":"2023-06-16","p":26350},{"t":"2023-06-19","p":26850},{"t":"2023-06-22","p":29900},{"t":"2023-06-25","p":30500},{"t":"2023-06-28","p":30080},
{"t":"2023-07-01","p":30600},{"t":"2023-07-04","p":31150},{"t":"2023-07-07","p":30350},{"t":"2023-07-10","p":30400},{"t":"2023-07-13","p":31450},{"t":"2023-07-16","p":30250},{"t":"2023-07-19","p":29900},{"t":"2023-07-22","p":29800},{"t":"2023-07-25","p":29200},{"t":"2023-07-28","p":29300},
{"t":"2023-08-01","p":29700},{"t":"2023-08-04","p":29100},{"t":"2023-08-07","p":29200},{"t":"2023-08-10","p":29450},{"t":"2023-08-13","p":29400},{"t":"2023-08-16","p":28700},{"t":"2023-08-19","p":26100},{"t":"2023-08-22","p":26000},{"t":"2023-08-25","p":26000},{"t":"2023-08-28","p":26100},{"t":"2023-08-29","p":27700},{"t":"2023-08-31","p":25900},
{"t":"2023-09-01","p":25800},{"t":"2023-09-04","p":25800},{"t":"2023-09-07","p":26200},{"t":"2023-09-10","p":25800},{"t":"2023-09-13","p":26200},{"t":"2023-09-16","p":26550},{"t":"2023-09-19","p":27200},{"t":"2023-09-22","p":26600},{"t":"2023-09-25","p":26300},{"t":"2023-09-28","p":27000},
{"t":"2023-10-01","p":27950},{"t":"2023-10-04","p":27800},{"t":"2023-10-07","p":27950},{"t":"2023-10-10","p":27400},{"t":"2023-10-13","p":26850},{"t":"2023-10-16","p":28500},{"t":"2023-10-19","p":28700},{"t":"2023-10-22","p":30000},{"t":"2023-10-25","p":34500},{"t":"2023-10-28","p":34550},
{"t":"2023-11-01","p":35400},{"t":"2023-11-04","p":35000},{"t":"2023-11-07","p":35400},{"t":"2023-11-10","p":36700},{"t":"2023-11-13","p":36500},{"t":"2023-11-16","p":36200},{"t":"2023-11-19","p":37350},{"t":"2023-11-22","p":37400},{"t":"2023-11-25","p":37700},{"t":"2023-11-28","p":37800},
{"t":"2023-12-01","p":38700},{"t":"2023-12-04","p":41900},{"t":"2023-12-07","p":43300},{"t":"2023-12-10","p":43800},{"t":"2023-12-13","p":42900},{"t":"2023-12-16","p":41900},{"t":"2023-12-19","p":42200},{"t":"2023-12-22","p":43950},{"t":"2023-12-25","p":43600},{"t":"2023-12-28","p":42600},
{"t":"2024-01-01","p":44200},{"t":"2024-01-04","p":44150},{"t":"2024-01-07","p":43900},{"t":"2024-01-10","p":46600},{"t":"2024-01-13","p":42800},{"t":"2024-01-16","p":43150},{"t":"2024-01-19","p":41600},{"t":"2024-01-22","p":39500},{"t":"2024-01-25","p":40000},{"t":"2024-01-28","p":42000},
{"t":"2024-02-01","p":43000},{"t":"2024-02-04","p":42600},{"t":"2024-02-07","p":44300},{"t":"2024-02-10","p":47700},{"t":"2024-02-13","p":49700},{"t":"2024-02-16","p":52100},{"t":"2024-02-19","p":51800},{"t":"2024-02-22","p":51300},{"t":"2024-02-25","p":51700},{"t":"2024-02-26","p":54500},{"t":"2024-02-27","p":57100}
]
},
"encoding": {
"x": {"field": "t", "type": "temporal",
 "scale": {"type": "utc", "domain": [{"year": 2019, "month": 3, "date": 1, "utc": true}, {"year": 2024, "month": 3, "date": 1, "utc": true}]},
 "axis": {
  "values": [{"year":2019,"month":7,"date":1,"utc":true},{"year":2020,"month":1,"date":1,"utc":true},{"year":2020,"month":7,"date":1,"utc":true},{"year":2021,"month":1,"date":1,"utc":true},{"year":2021,"month":7,"date":1,"utc":true},{"year":2022,"month":1,"date":1,"utc":true},{"year":2022,"month":7,"date":1,"utc":true},{"year":2023,"month":1,"date":1,"utc":true},{"year":2023,"month":7,"date":1,"utc":true},{"year":2024,"month":1,"date":1,"utc":true}],
  "labelExpr": "utcFormat(datum.value, \"%b '%y\")",
  "labelFontSize": 17, "labelColor": "#333333", "labelFont": "Inter", "labelPadding": 11, "labelFlush": false, "labelOverlap": false,
  "ticks": true, "tickSize": 14, "tickColor": "#e8e8e8", "tickWidth": 1,
  "domainColor": "#d6d6d6", "domainWidth": 1.5, "grid": false,
  "title": "© 2024 Glassnode. All Rights Reserved.", "titleX": -90, "titleY": 102, "titleAlign": "left", "titleAnchor": "start", "titleBaseline": "middle", "titleAngle": 0,
  "titleFont": "Inter", "titleFontSize": 20, "titleFontWeight": 400, "titleColor": "#7f7f7f", "titleLimit": 2000
 }}
},
"layer": [
{
"data": {"name": "vol"},
"mark": {"type": "line", "strokeWidth": 2, "interpolate": "linear"},
"encoding": {
"y": {"field": "v", "type": "quantitative",
 "scale": {"domain": [0, 3.5], "nice": false, "zero": true},
 "axis": {
  "orient": "left", "values": [0, 0.5, 1, 1.5, 2, 2.5, 3, 3.5],
  "labelExpr": "datum.value % 1 === 0 ? (datum.value === 0 ? '0' : datum.value + 'B') : ''",
  "grid": true, "gridColor": "#eeeeee", "gridWidth": 1, "ticks": false, "tickSize": 0,
  "domainColor": "#f9c68c", "domainWidth": 1.5,
  "labelPadding": 22, "labelFontSize": 17, "labelColor": "#333333", "labelFont": "Inter", "labelBaseline": "alphabetic", "labelOffset": -5, "labelOverlap": false,
  "title": "WebGiaCoin.com News", "titleAngle": 0, "titleX": -119, "titleY": 764, "titleAlign": "left", "titleAnchor": "start", "titleBaseline": "middle",
  "titleFont": "DejaVu Serif", "titleFontSize": 36, "titleFontWeight": "bold", "titleColor": "#fe1616", "titleLimit": 2000
 }},
"color": {"datum": "Short-Term Holder in Profit to Exchanges (Volume) [USD]",
 "scale": {"domain": ["Short-Term Holder in Profit to Exchanges (Volume) [USD]", "Price [USD]"], "range": ["#f7931a", "#2e2e2e"]},
 "legend": {"orient": "none", "legendX": -47, "legendY": -22, "direction": "horizontal", "title": null,
  "symbolType": "circle", "symbolSize": 100, "labelFontSize": 15, "labelFont": "Inter", "labelColor": "#333333",
  "columnPadding": 39, "labelOffset": 5, "padding": 0, "labelLimit": 1000,
  "encode": {"symbols": {"update": {"fill": {"scale": "color", "field": "value"}, "strokeWidth": {"value": 0}, "opacity": {"value": 1}}}}}}
}
},
{
"data": {"name": "price"},
"mark": {"type": "line", "strokeWidth": 2.5, "interpolate": "linear"},
"encoding": {
"y": {"field": "p", "type": "quantitative",
 "scale": {"type": "log", "domain": [2000, 80000], "nice": false},
 "axis": {
  "orient": "right", "values": [2000, 4000, 6000, 8000, 10000, 20000, 40000, 60000],
  "labelExpr": "(round(datum.value) === 2000 || round(datum.value) === 6000 || round(datum.value) === 10000 || round(datum.value) === 40000) ? '$' + round(datum.value / 1000) + 'k' : ''",
  "grid": true, "gridColor": "#eeeeee", "gridWidth": 1, "ticks": false, "tickSize": 0,
  "domainColor": "#ababab", "domainWidth": 1.5,
  "labelPadding": 21, "labelFontSize": 17, "labelColor": "#333333", "labelFont": "Inter", "labelBaseline": "alphabetic", "labelOffset": -4, "labelOverlap": false,
  "title": "glassnode", "titleAngle": 0, "titleX": -110, "titleY": 803, "titleAlign": "left", "titleAnchor": "start", "titleBaseline": "middle",
  "titleFont": "DejaVu Sans", "titleFontSize": 38, "titleFontWeight": 500, "titleColor": "#111111", "titleLimit": 2000
 }},
"color": {"datum": "Price [USD]"}
}
}
],
"resolve": {"scale": {"y": "independent"}}
}
